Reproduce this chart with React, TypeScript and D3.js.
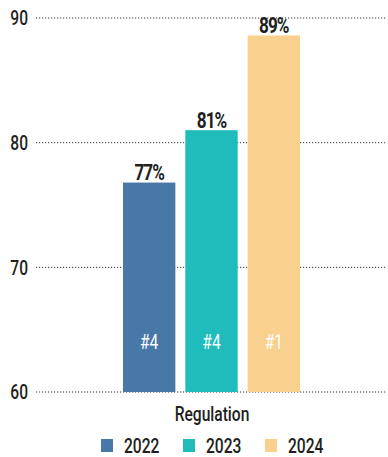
import React from "react";
import * as d3 from "d3";

const years = ["2022", "2023", "2024"];
const values = [76.8, 81.0, 88.6];
const valueLabels = ["77%", "81%", "89%"];
const rankLabels = ["#4", "#4", "#1"];
const colors = ["#4778a8", "#20bcbb", "#fad08e"];
const yTicks = [60, 70, 80, 90];
const category = "Regulation";

const W = 388;
const H = 457;
const FONT = "Roboto, 'Noto Sans', sans-serif";
const SX = 0.78;

type TProps = {
  x: number;
  y: number;
  anchor?: "start" | "middle" | "end";
  size: number;
  weight?: number | string;
  fill?: string;
  ls?: number;
  children: React.ReactNode;
};

function CText({ x, y, anchor = "start", size, weight = 500, fill = "#231f20", ls = 0, children }: TProps) {
  return (
    <text
      transform={`translate(${x},${y}) scale(${SX},1)`}
      textAnchor={anchor}
      fontSize={size}
      fontWeight={weight}
      fill={fill}
      letterSpacing={ls}
      dy="0.36em"
    >
      {children}
    </text>
  );
}

export default function App() {
  const y = d3.scaleLinear().domain([60, 90]).range([392, 18]);
  const x = d3.scaleBand<string>().domain(years).range([123, 300]).paddingInner(0.16).paddingOuter(0);
  const legendX = d3.scaleBand<string>().domain(years).range([101, 347]);

  return (
    <svg width={W} height={H} style={{ position: "absolute", left: 0, top: 0 }} fontFamily={FONT}>
      {yTicks.map((t) => (
        <g key={t}>
          <line x1={36} x2={387} y1={y(t)} y2={y(t)} stroke="#333" strokeWidth={1} strokeDasharray="1.2,1.8" />
          <CText x={28} y={y(t)} anchor="end" size={20}>{t}</CText>
        </g>
      ))}
      {years.map((yr, i) => {
        const cx = (x(yr) ?? 0) + x.bandwidth() / 2;
        return (
          <g key={yr}>
            <rect x={x(yr)} y={y(values[i])} width={x.bandwidth()} height={y(60) - y(values[i])} fill={colors[i]} />
            <CText x={cx} y={y(values[i]) - 10} anchor="middle" size={22} weight={700} ls={-1.2}>{valueLabels[i]}</CText>
            <CText x={cx} y={342} anchor="middle" size={20} weight={400} fill="#fff">{rankLabels[i]}</CText>
          </g>
        );
      })}
      <CText x={212} y={414} anchor="middle" size={20}>{category}</CText>
      {years.map((yr, i) => (
        <g key={"lg" + yr}>
          <rect x={legendX(yr)} y={439} width={12} height={13} fill={colors[i]} />
          <CText x={(legendX(yr) ?? 0) + 23} y={446} size={20}>{yr}</CText>
        </g>
      ))}
    </svg>
  );
}
